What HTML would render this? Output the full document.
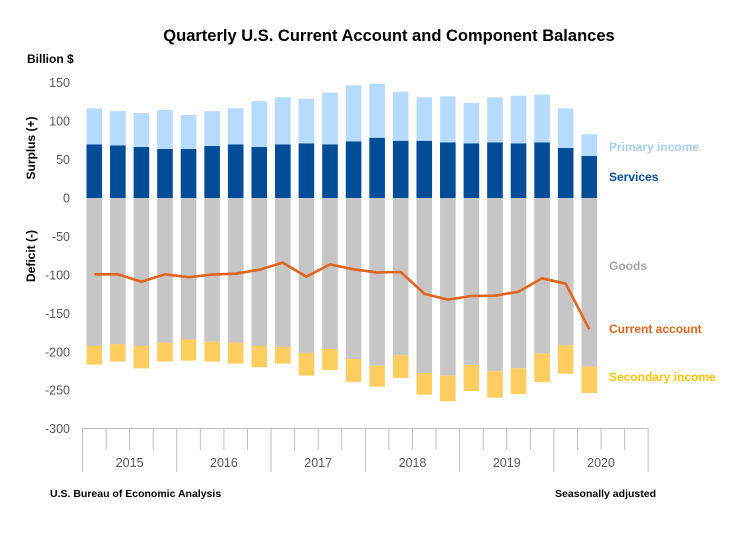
<!DOCTYPE html>
<html><head><meta charset="utf-8"><style>
body{margin:0;background:#fff;}
svg text{font-family:"Liberation Sans",sans-serif;}
</style></head><body>
<svg id="chart" width="732" height="532" xmlns="http://www.w3.org/2000/svg">
<rect width="732" height="532" fill="#fff"/>
<text x="389" y="41" text-anchor="middle" font-size="16.5" font-weight="bold" fill="#000">Quarterly U.S. Current Account and Component Balances</text>
<text x="27" y="63" font-size="12" font-weight="bold" fill="#000">Billion $</text>
<text transform="translate(35,148) rotate(-90)" text-anchor="middle" font-size="12" font-weight="bold" fill="#000">Surplus (+)</text>
<text transform="translate(35,256) rotate(-90)" text-anchor="middle" font-size="12" font-weight="bold" fill="#000">Deficit (-)</text>
<g id="yticks"></g><g id="bars"></g><g id="line"></g><g id="xaxis"></g>
<text x="609" y="151" font-size="12" font-weight="bold" fill="#a9cff5">Primary income</text>
<text x="609" y="181" font-size="12" font-weight="bold" fill="#004c97">Services</text>
<text x="609" y="270" font-size="12" font-weight="bold" fill="#a6a6a6">Goods</text>
<text x="609" y="333" font-size="12" font-weight="bold" fill="#e0651f">Current account</text>
<text x="609" y="381" font-size="12" font-weight="bold" fill="#ffc000">Secondary income</text>
<text x="50" y="497" font-size="10.5" font-weight="bold" fill="#000">U.S. Bureau of Economic Analysis</text>
<text x="656" y="497" text-anchor="end" font-size="10.5" font-weight="bold" fill="#000">Seasonally adjusted</text>
</svg>
<script>
const years = ["2015","2016","2017","2018","2019","2020"];
const services = [69.8,68.5,66.3,63.7,63.7,67.6,69.8,66.3,69.8,71.1,69.8,73.7,78.4,74.5,74.5,72.4,71.1,72.4,71.1,72.4,65,54.6];
const primaryIncome = [46.8,44.5,44.2,50.7,44.3,45.4,46.8,59.7,61.2,57.6,67.2,72.8,70.2,63.8,56.5,59.8,52.4,58.6,61.9,61.9,51.6,28.2];
const goods = [-192.5,-190,-192.5,-188,-184,-186.8,-188,-192.5,-193.8,-201.5,-196.4,-209.4,-218,-204.6,-227.6,-231,-217,-225.4,-221.5,-202.4,-191.6,-219.3];
const secondaryIncome = [-24.2,-22.8,-29,-24.8,-27.5,-26,-27.4,-27.7,-21.6,-29.5,-27.3,-29.9,-27.3,-29.4,-28.2,-33.4,-34,-34.3,-33.4,-36.9,-36.9,-34.3];
const currentAccount = [-99.2,-99.2,-109,-99.2,-103,-99.6,-98.4,-93.2,-84,-102.3,-86.3,-92.7,-96.7,-96.2,-124.4,-132.2,-127.4,-127,-121.8,-104.4,-111.4,-170.8];
const yTicks = [150,100,50,0,-50,-100,-150,-200,-250,-300];

const NS="http://www.w3.org/2000/svg";
const y = v => 198 - v*0.7689;
const step = 23.57, x0 = 82.5;
const xc = i => x0 + step*(i+0.5);
const bw = 15.6;
function mk(tag, attrs, parent){const e=document.createElementNS(NS,tag);for(const k in attrs)e.setAttribute(k,attrs[k]);document.getElementById(parent).appendChild(e);return e;}

yTicks.forEach(t=>{
  const e=mk("text",{x:70,y:y(t)+4.5,"text-anchor":"end","font-size":"12.5",fill:"#595959"},"yticks");
  e.textContent=t;
  
  
});
function rect(i,a,b,fill,name){
  const top=y(Math.max(a,b)), bot=y(Math.min(a,b));
  const r=mk("rect",{x:xc(i)-bw/2,y:top,width:bw,height:bot-top,fill:fill},"bars");
  
  
}
services.forEach((s,i)=>{
  rect(i,0,s,"#004c97","bar-services");
  rect(i,s,s+primaryIncome[i],"#b7dbff","bar-primary-income");
  rect(i,0,goods[i],"#c6c6c6","bar-goods");
  rect(i,goods[i],goods[i]+secondaryIncome[i],"#ffcd60","bar-secondary-income");
});
const pts=currentAccount.map((v,i)=>xc(i).toFixed(1)+","+y(v).toFixed(1)).join(" ");
const pl=mk("polyline",{points:pts,fill:"none",stroke:"#e0651f","stroke-width":"2.6","stroke-linejoin":"round"},"line");



const ax=mk("line",{x1:x0,x2:x0+step*24,y1:428.5,y2:428.5,stroke:"#bfbfbf","stroke-width":"1"},"xaxis");


for(let k=0;k<=24;k++){
  const xx=x0+step*k;
  const tl=mk("line",{x1:xx,x2:xx,y1:428,y2:(k%4===0)?472:450,stroke:"#bfbfbf","stroke-width":"1"},"xaxis");
  
  
}
years.forEach((yr,j)=>{
  const t=mk("text",{x:x0+step*(4*j+2),y:467,"text-anchor":"middle","font-size":"12.5",fill:"#595959"},"xaxis");
  t.textContent=yr;
  
  
});
</script>
</body></html>
